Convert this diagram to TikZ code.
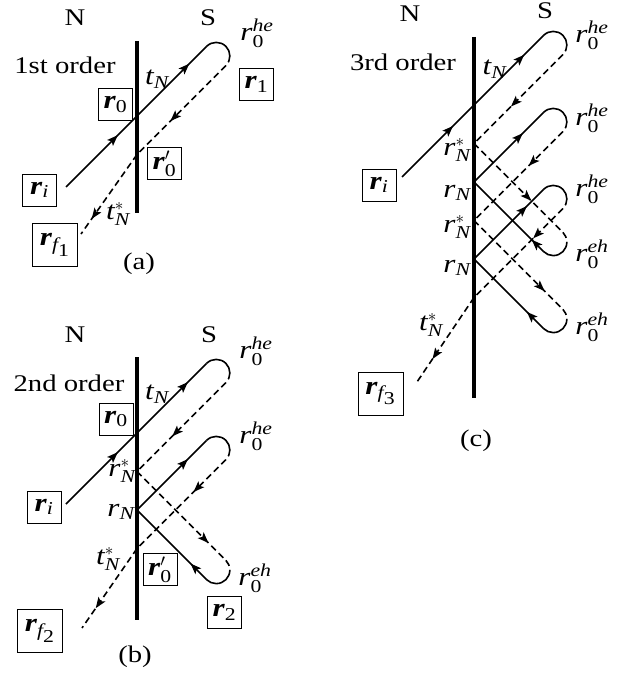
\documentclass[tikz,border=0pt]{standalone}
\usepackage{amsmath}
\usepackage{fontspec}
\setmainfont[FakeStretch=1.2]{Liberation Serif}
\usetikzlibrary{arrows.meta,decorations.markings,calc}

\def\dd{79.25}
\def\hs{19.25}
\def\rr{13.61}
\def\rq{9.624}

\tikzset{
  wall/.style={line width=4bp},
  sol/.style={line width=1.6bp},
  dsh/.style={line width=1.6bp, dash pattern=on 6.5bp off 4bp},
  arr/.style={postaction={decorate}, decoration={markings, mark=at position #1 with {\fill[solid] (3bp,0) -- (-8bp,4.2bp) -- (-5.5bp,0) -- (-8bp,-4.2bp) -- cycle;}}},
  lbl/.style={inner sep=0pt, font=\fontsize{24}{28}\selectfont},
  mlbl/.style={inner sep=0pt, font=\fontsize{26}{30}\selectfont},
  bx/.style={draw, line width=0.8bp, inner sep=2bp, minimum width=34bp, minimum height=32bp, font=\fontsize{26}{30}\selectfont},
  bxf/.style={bx, minimum width=45bp, minimum height=43bp},
}

\newcommand\heloop[5]{%
  \coordinate (#1A) at (#2,-#3);
  \coordinate (#1C) at ({#2+\dd},{-#3+\dd-\hs});
  \coordinate (#1P) at ($(#1C)+(-\rq,\rq)$);
  \coordinate (#1R) at ($(#1C)+(\rr,0)$);
  \coordinate (#1Q) at ($(#1C)+(\rq,-\rq)$);
  \coordinate (#1B) at (#2,{-#3-2*\hs});
  \draw[sol,arr=#4] (#1A) -- (#1P);
  \draw[sol] (#1P) arc[start angle=135,end angle=0,radius=\rr];
  \draw[dsh] (#1R) arc[start angle=0,end angle=-45,radius=\rr];
  \draw[dsh,arr=#5] (#1Q) -- (#1B);
}
\newcommand\ehloop[5]{%
  \coordinate (#1D) at (#2,-#3);
  \coordinate (#1C) at ({#2+\dd},{-#3-\dd-\hs});
  \coordinate (#1Q) at ($(#1C)+(\rq,\rq)$);
  \coordinate (#1R) at ($(#1C)+(\rr,0)$);
  \coordinate (#1P) at ($(#1C)+(-\rq,-\rq)$);
  \coordinate (#1E) at (#2,{-#3-2*\hs});
  \draw[dsh,arr=#4] (#1D) -- (#1Q);
  \draw[dsh] (#1Q) arc[start angle=45,end angle=0,radius=\rr];
  \draw[sol] (#1R) arc[start angle=0,end angle=-135,radius=\rr];
  \draw[sol,arr=#5] (#1P) -- (#1E);
}
\newcommand\sub[1]{{\scriptstyle\textrm{#1}}}

\begin{document}
\begin{tikzpicture}[x=1bp,y=1bp]
\useasboundingbox (0,0) rectangle (636,-676);

% ---------------- panel (a)
\coordinate (aWt) at (137,-41); \coordinate (aWb) at (137,-213);
\draw[wall] (aWt) -- (aWb);
\heloop{a1}{137}{116}{0.72}{0.6}
\coordinate (aIn) at (66,-187);
\coordinate (aOut) at (81,-234);
\draw[sol,arr=0.7] (aIn) -- (a1A);
\draw[dsh,arr=0.78] (a1B) -- (aOut);

\node[lbl] (aN) at (75,-18) {N};
\node[lbl] (aS) at (208,-18) {S};
\node[lbl] (aord) at (65,-65) {1st order};
\node[mlbl] (atN) at (157,-79) {$\textit{t}_{\textit{N}}$};
\node[mlbl] (ahe) at (257,-33) {$\textit{r}_{\textrm{0}}^{\textit{he}}$};
\node[mlbl] (atNs) at (118,-214) {$\textit{t}_{\textit{N}}^{*}$};
\node[bx] (ar0) at (115.5,-104.5) {$\textbf{\textit{r}}_{\textrm{0}}$};
\node[bx] (ar1) at (256.5,-84.5) {$\textbf{\textit{r}}_{\textrm{1}}$};
\node[bx] (ar0p) at (164.5,-163.5) {$\textbf{\textit{r}}'_{\textrm{0}}$};
\node[bx] (ari) at (39.5,-190) {$\textbf{\textit{r}}_{\textit{i}}$};
\node[bxf] (arf) at (55,-245) {$\textbf{\textit{r}}_{\textit{f}_{\sub{1}}}$};
\node[lbl] (acap) at (139,-264) {(a)};

% ---------------- panel (b)
\coordinate (bWt) at (137,-357); \coordinate (bWb) at (137,-620);
\draw[wall] (bWt) -- (bWb);
\heloop{b1}{137}{433}{0.7}{0.58}
\ehloop{b2}{137}{471.5}{0.78}{0.2}
\heloop{b3}{137}{510}{0.7}{0.34}
\coordinate (bIn) at (66,-504);
\coordinate (bOut) at (82,-628);
\draw[sol,arr=0.7] (bIn) -- (b1A);
\draw[dsh,arr=0.72] (b3B) -- (bOut);

\node[lbl] (bN) at (75,-335) {N};
\node[lbl] (bS) at (209,-335) {S};
\node[lbl] (bord) at (69,-383) {2nd order};
\node[mlbl] (btN) at (157,-394) {$\textit{t}_{\textit{N}}$};
\node[mlbl] (bhe1) at (256,-351) {$\textit{r}_{\textrm{0}}^{\textit{he}}$};
\node[mlbl] (bhe2) at (256,-436) {$\textit{r}_{\textrm{0}}^{\textit{he}}$};
\node[mlbl] (beh) at (255,-578) {$\textit{r}_{\textrm{0}}^{\textit{eh}}$};
\node[mlbl] (brNs) at (122,-471) {$\textit{r}_{\textit{N}}^{*}$};
\node[mlbl] (brN) at (121,-512) {$\textit{r}_{\textit{N}}$};
\node[mlbl] (btNs) at (108,-559) {$\textit{t}_{\textit{N}}^{*}$};
\node[bx] (br0) at (116,-419) {$\textbf{\textit{r}}_{\textrm{0}}$};
\node[bx] (br0p) at (160,-569.5) {$\textbf{\textit{r}}'_{\textrm{0}}$};
\node[bx] (br2) at (224.5,-612.5) {$\textbf{\textit{r}}_{\textrm{2}}$};
\node[bx] (bri) at (44,-507) {$\textbf{\textit{r}}_{\textit{i}}$};
\node[bxf] (brf) at (40,-631) {$\textbf{\textit{r}}_{\textit{f}_{\sub{2}}}$};
\node[lbl] (bcap) at (135,-657) {(b)};

% ---------------- panel (c)
\coordinate (cWt) at (474,-37); \coordinate (cWb) at (474,-398);
\draw[wall] (cWt) -- (cWb);
\heloop{c1}{474}{105}{0.69}{0.56}
\ehloop{c2}{474}{143.5}{0.62}{0.14}
\heloop{c3}{474}{182}{0.67}{0.36}
\ehloop{c4}{474}{220.5}{0.77}{0.21}
\heloop{c5}{474}{259}{0.73}{0.31}
\coordinate (cIn) at (402,-177);
\coordinate (cOut) at (417,-382);
\draw[sol,arr=0.68] (cIn) -- (c1A);
\draw[dsh,arr=0.7] (c5B) -- (cOut);

\node[lbl] (cN) at (410,-14) {N};
\node[lbl] (cS) at (545,-11) {S};
\node[lbl] (cord) at (403,-62) {3rd order};
\node[mlbl] (ctN) at (494.5,-69) {$\textit{t}_{\textit{N}}$};
\node[mlbl] (che1) at (592,-35) {$\textit{r}_{\textrm{0}}^{\textit{he}}$};
\node[mlbl] (che2) at (592,-118) {$\textit{r}_{\textrm{0}}^{\textit{he}}$};
\node[mlbl] (che3) at (592,-189) {$\textit{r}_{\textrm{0}}^{\textit{he}}$};
\node[mlbl] (ceh1) at (592,-254) {$\textit{r}_{\textrm{0}}^{\textit{eh}}$};
\node[mlbl] (ceh2) at (592,-327) {$\textit{r}_{\textrm{0}}^{\textit{eh}}$};
\node[mlbl] (crNs1) at (457,-150) {$\textit{r}_{\textit{N}}^{*}$};
\node[mlbl] (crN1) at (457,-193) {$\textit{r}_{\textit{N}}$};
\node[mlbl] (crNs2) at (457,-227) {$\textit{r}_{\textit{N}}^{*}$};
\node[mlbl] (crN2) at (457,-268) {$\textit{r}_{\textit{N}}$};
\node[mlbl] (ctNs) at (431,-325) {$\textit{t}_{\textit{N}}^{*}$};
\node[bx] (cri) at (379,-185) {$\textbf{\textit{r}}_{\textit{i}}$};
\node[bxf] (crf) at (380.5,-393.5) {$\textbf{\textit{r}}_{\textit{f}_{\sub{3}}}$};
\node[lbl] (ccap) at (476,-441) {(c)};
\end{tikzpicture}
\end{document}
